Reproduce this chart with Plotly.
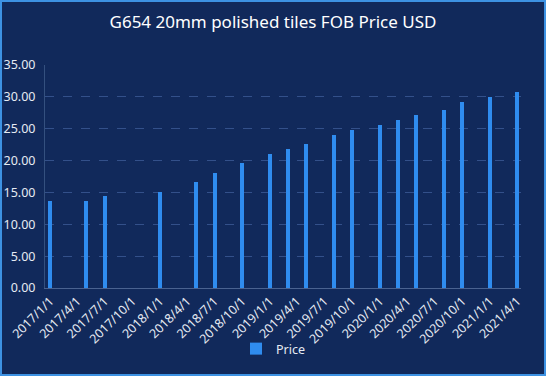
import plotly.graph_objects as go

dates = ["2017-01-01", "2017-05-01", "2017-07-01", "2018-01-01", "2018-05-01",
         "2018-07-01", "2018-10-01", "2019-01-01", "2019-03-01", "2019-05-01",
         "2019-08-01", "2019-10-01", "2020-01-01", "2020-03-01", "2020-05-01",
         "2020-08-01", "2020-10-01", "2021-01-01", "2021-04-01"]
price = [13.6, 13.6, 14.45, 15.0, 16.6, 18.0, 19.6, 21.0, 21.8, 22.6,
         24.0, 24.8, 25.6, 26.3, 27.1, 27.9, 29.2, 30.0, 30.7]
y_ticks = [0, 5, 10, 15, 20, 25, 30, 35]
y_ticktext = ["%.2f" % v for v in y_ticks]

W, H = 546, 376
ML, MR, MT, MB = 45, 25, 65, 88
PW, PH = W - ML - MR, H - MT - MB

BG = "#11295b"
BAR = "#2f8cef"
TXT = "#e6ebf3"
FONT = "Noto Sans"

fig = go.Figure()
fig.add_trace(go.Bar(
    x=dates, y=price, name="Price",
    marker=dict(color=BAR, line=dict(width=0)),
    width=13.3 * 86400000,
))

def px_x(p):
    return (p - ML) / PW

def px_y(p):
    return (H - MB - p) / PH

fig.update_layout(
    width=W, height=H,
    margin=dict(l=ML, r=MR, t=MT, b=MB, autoexpand=False),
    paper_bgcolor=BG, plot_bgcolor=BG,
    font=dict(family=FONT, color=TXT, size=12),
    title=dict(text="G654 20mm polished tiles FOB Price USD",
               x=0.5, xref="container", xanchor="center",
               y=1 - 22 / H, yref="container", yanchor="middle",
               font=dict(size=17, color="#ffffff", family=FONT)),
    showlegend=True,
    legend=dict(orientation="h", xref="container", x=236 / W, xanchor="left",
                yref="container", y=1 - 349 / H, yanchor="middle",
                font=dict(size=12.5, color=TXT), bgcolor="rgba(0,0,0,0)"),
    xaxis=dict(type="date", range=["2016-12-15", "2021-04-14"],
               tick0="2017-01-01", dtick="M3", tickformat="%Y/%-m/%-d",
               tickangle=-45, showgrid=False, showline=True,
               linecolor="#4a6290", linewidth=1, ticks="", automargin=False,
               tickfont=dict(size=12.5, color=TXT), zeroline=False),
    yaxis=dict(range=[0, 35], tickvals=y_ticks, ticktext=y_ticktext,
               showgrid=True, gridcolor="#33508a", griddash="dash", gridwidth=1,
               showline=True, linecolor="#34507f", linewidth=1, ticks="",
               automargin=False,
               zeroline=False, tickfont=dict(size=12.5, color=TXT), ticklabelstandoff=6),
    bargap=0,
    shapes=[dict(type="rect", xref="paper", yref="paper",
                 x0=px_x(1), x1=px_x(W - 1), y0=px_y(H - 1), y1=px_y(1),
                 line=dict(color="#3d92e3", width=2), fillcolor="rgba(0,0,0,0)",
                 layer="above")],
)

fig.write_html("out.html",
               config={"displayModeBar": False},
               post_script="document.body.style.margin='0';document.body.style.padding='0';")
